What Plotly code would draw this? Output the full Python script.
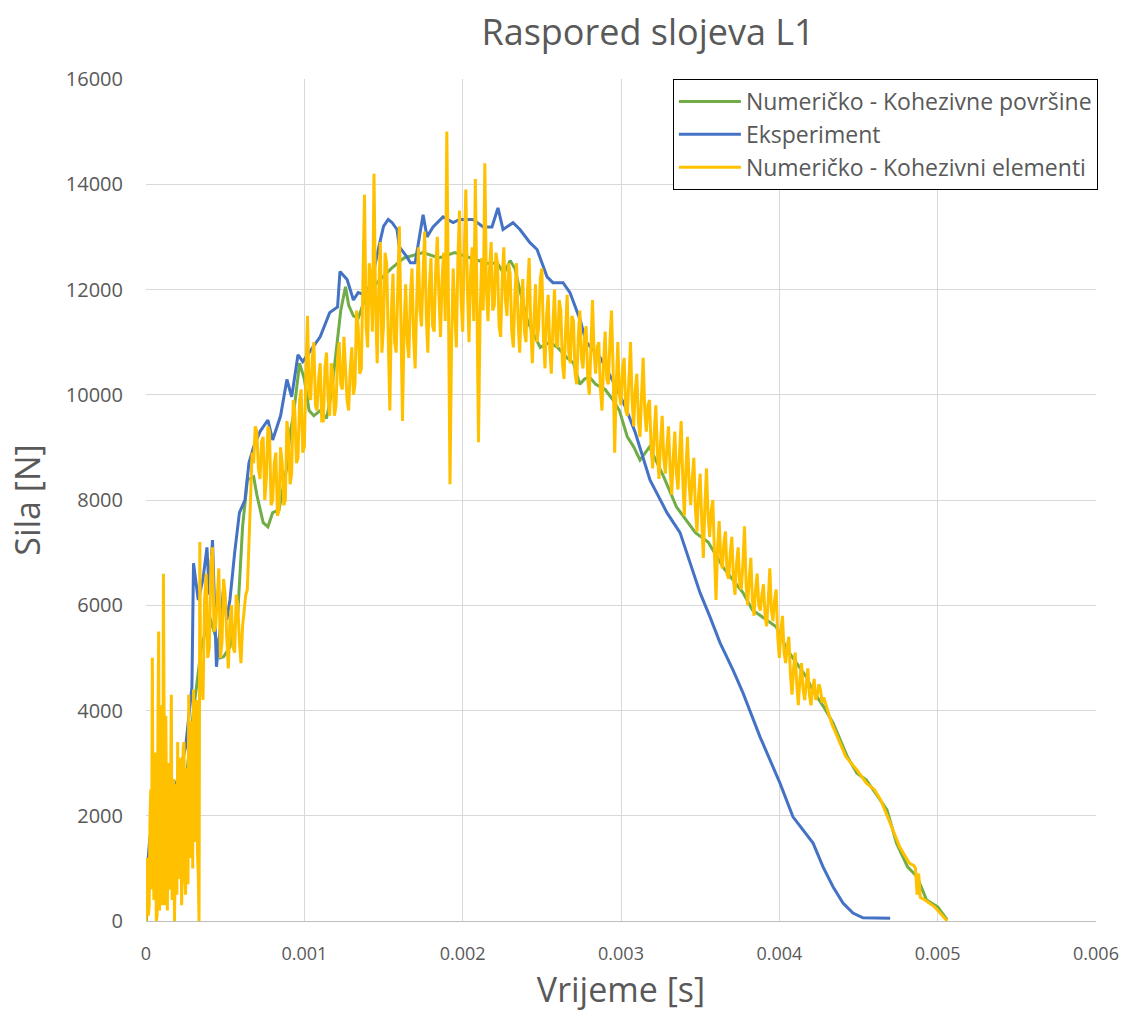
import plotly.graph_objects as go

# Eksperiment: time [ms], force [N]
exp_t_ms = [0, 0.006, 0.025, 0.06, 0.10, 0.15, 0.20, 0.25, 0.29, 0.30, 0.33, 0.36, 0.385, 0.40,
            0.42, 0.445, 0.47, 0.49, 0.51, 0.53, 0.56, 0.59, 0.625, 0.65, 0.68, 0.72, 0.77, 0.80,
            0.85, 0.89, 0.92, 0.96, 0.99, 1.04, 1.10, 1.16, 1.21, 1.225, 1.27, 1.31, 1.34, 1.38,
            1.42, 1.47, 1.50, 1.53, 1.555, 1.585, 1.60, 1.648, 1.67, 1.70, 1.75, 1.775, 1.813,
            1.876, 1.94, 1.98, 2.065, 2.13, 2.185, 2.223, 2.255, 2.318, 2.362, 2.425, 2.47, 2.533,
            2.57, 2.634, 2.678, 2.741, 2.78, 2.87, 2.96, 3.03, 3.088, 3.183, 3.29, 3.373, 3.436,
            3.499, 3.562, 3.625, 3.707, 3.771, 3.878, 4.004, 4.086, 4.149, 4.213, 4.276, 4.339,
            4.402, 4.465, 4.528, 4.70]
exp_f = [0, 900, 1600, 1800, 2000, 2300, 2700, 3300, 4450, 6800, 6100, 6500, 7100, 6200,
         7240, 4830, 5600, 6350, 5720, 6100, 7000, 7760, 8000, 8700, 9010, 9300, 9520, 9140,
         9600, 10290, 9960, 10760, 10630, 10850, 11100, 11560, 11670, 12340, 12190, 11800, 11940, 11900,
         12100, 12800, 13200, 13330, 13270, 13140, 12810, 12620, 12510, 12510, 13420, 13000, 13190,
         13380, 13270, 13330, 13330, 13190, 13190, 13550, 13140, 13270, 13140, 12890, 12760, 12240,
         12130, 12130, 11940, 11430, 11000, 10700, 10200, 9750, 9300, 8380, 7760, 7380, 6810,
         6240, 5780, 5290, 4770, 4330, 3500, 2620, 1980, 1730, 1480, 1030, 650,
         340, 150, 60, 50]

# Numeričko - Kohezivne površine: time [ms], force [N]
cs_t_ms = [0, 0.01, 0.03, 0.06, 0.10, 0.15, 0.20, 0.25, 0.30, 0.35, 0.40, 0.45, 0.47, 0.49,
           0.53, 0.58, 0.61, 0.64, 0.68, 0.70, 0.74, 0.77, 0.80, 0.84, 0.89, 0.91, 0.93, 0.97,
           1.00, 1.03, 1.06, 1.10, 1.14, 1.17, 1.20, 1.23, 1.26, 1.28, 1.31, 1.34, 1.38, 1.45,
           1.55, 1.63, 1.75, 1.85, 1.95, 2.05, 2.15, 2.22, 2.26, 2.30, 2.33, 2.36, 2.41, 2.44,
           2.49, 2.55, 2.60, 2.66, 2.70, 2.74, 2.77, 2.80, 2.84, 2.90, 2.95, 2.99, 3.04, 3.08,
           3.12, 3.18, 3.27, 3.35, 3.47, 3.55, 3.65, 3.77, 3.83, 3.98, 4.05, 4.17, 4.21, 4.28,
           4.34, 4.43, 4.49, 4.55, 4.64, 4.68, 4.74, 4.81, 4.87, 4.93, 5.00, 5.06]
cs_f = [0, 300, 1200, 2300, 2000, 1900, 2100, 2600, 4000, 5200, 5800, 5300, 5000, 5020,
        5210, 5860, 7490, 8380, 8440, 8100, 7570, 7490, 7760, 7810, 8630, 9280, 9580, 10600,
        10300, 9700, 9600, 9700, 9550, 10000, 10800, 11600, 12050, 11700, 11500, 11450, 11800, 12100,
        12400, 12600, 12700, 12600, 12700, 12600, 12500, 12500, 12300, 12550, 12400, 12000, 11400, 11200,
        10900, 11000, 10900, 10700, 10600, 10200, 10300, 10340, 10200, 10100, 9900, 9700, 9200, 9010,
        8760, 9010, 8440, 7870, 7380, 7200, 6700, 6240, 5910, 5590, 5150, 4640, 4390, 4070,
        3760, 3120, 2810, 2680, 2300, 2110, 1480, 1030, 840, 400, 270, 20]

# Numeričko - Kohezivni elementi: time [ms], force [N]
ce_t_ms = [
    0.000, 0.005, 0.010, 0.015, 0.020, 0.025, 0.030, 0.035, 0.040, 0.045,
    0.050, 0.055, 0.060, 0.065, 0.070, 0.075, 0.080, 0.085, 0.090, 0.095,
    0.100, 0.105, 0.110, 0.115, 0.120, 0.125, 0.130, 0.135, 0.140, 0.145,
    0.150, 0.155, 0.160, 0.165, 0.170, 0.175, 0.180, 0.185, 0.190, 0.195,
    0.200, 0.205, 0.210, 0.215, 0.220, 0.225, 0.230, 0.235, 0.240, 0.245,
    0.250, 0.255, 0.260, 0.265, 0.270, 0.275, 0.280, 0.285, 0.290, 0.295,
    0.300, 0.305, 0.310, 0.315, 0.320, 0.325, 0.330, 0.335, 0.340, 0.345,
    0.350,
    0.36, 0.37, 0.38, 0.39, 0.40, 0.41, 0.42, 0.43, 0.44, 0.45,
    0.46, 0.47, 0.48, 0.49, 0.50, 0.51, 0.52, 0.53, 0.54, 0.55,
    0.56, 0.57, 0.58, 0.59, 0.60, 0.61, 0.62, 0.63, 0.64, 0.65,
    0.66, 0.67, 0.68, 0.69, 0.70, 0.71, 0.72, 0.73, 0.74, 0.75,
    0.76, 0.77, 0.78, 0.79, 0.80, 0.81, 0.82, 0.83, 0.84, 0.85,
    0.86, 0.87, 0.88, 0.89, 0.90, 0.91, 0.92, 0.93, 0.94, 0.95,
    0.96, 0.97, 0.98, 0.99, 1.00, 1.01, 1.02, 1.03, 1.04, 1.05,
    1.06, 1.07, 1.08, 1.09, 1.10, 1.11, 1.12, 1.13, 1.14, 1.15,
    1.16, 1.17, 1.18, 1.19, 1.20, 1.21, 1.22, 1.23, 1.24, 1.25,
    1.26, 1.27, 1.28, 1.29, 1.30, 1.31, 1.32, 1.33, 1.34, 1.35,
    1.36, 1.37, 1.38, 1.39, 1.40, 1.41, 1.42, 1.43, 1.44, 1.45,
    1.46, 1.47, 1.48, 1.49, 1.50, 1.51, 1.52, 1.53, 1.54, 1.55,
    1.56, 1.57, 1.58, 1.59, 1.60, 1.61, 1.62, 1.63, 1.64, 1.65,
    1.66, 1.67, 1.68, 1.69, 1.70, 1.71, 1.72, 1.73, 1.74, 1.75,
    1.76, 1.77, 1.78, 1.79, 1.80, 1.81, 1.82, 1.83, 1.84, 1.85,
    1.86, 1.87, 1.88, 1.89, 1.90, 1.91, 1.92, 1.93, 1.94, 1.95,
    1.96, 1.97, 1.98, 1.99, 2.00, 2.01, 2.02, 2.03, 2.04, 2.05,
    2.06, 2.07, 2.08, 2.09, 2.10, 2.11, 2.12, 2.13, 2.14, 2.15,
    2.16, 2.17, 2.18, 2.19, 2.20, 2.21, 2.22, 2.23, 2.24, 2.25,
    2.26, 2.27, 2.28, 2.29, 2.30, 2.31, 2.32, 2.33, 2.34, 2.35,
    2.36, 2.37, 2.38, 2.39, 2.40, 2.41, 2.42, 2.43, 2.44, 2.45,
    2.46, 2.47, 2.48, 2.49, 2.50, 2.51, 2.52, 2.53, 2.54, 2.55,
    2.56, 2.57, 2.58, 2.59, 2.60, 2.61, 2.62, 2.63, 2.64, 2.65,
    2.66, 2.67, 2.68, 2.69, 2.70, 2.71, 2.72, 2.73, 2.74, 2.75,
    2.76, 2.77, 2.78, 2.79, 2.80, 2.81, 2.82, 2.83, 2.84, 2.85,
    2.86, 2.87, 2.88, 2.89, 2.90, 2.91, 2.92, 2.93, 2.94, 2.95,
    2.96, 2.97, 2.98, 2.99, 3.00, 3.01, 3.02, 3.03, 3.04, 3.05,
    3.06, 3.07, 3.08, 3.09, 3.10, 3.11, 3.12, 3.13, 3.14, 3.15,
    3.16, 3.17, 3.18, 3.19, 3.20, 3.21, 3.22, 3.23, 3.24, 3.25,
    3.26, 3.27, 3.28, 3.29, 3.30, 3.31, 3.32, 3.33, 3.34, 3.35,
    3.36, 3.37, 3.38, 3.39, 3.40, 3.41, 3.42, 3.43, 3.44, 3.45,
    3.46, 3.47, 3.48, 3.49, 3.50, 3.51, 3.52, 3.53, 3.54, 3.55,
    3.56, 3.57, 3.58, 3.59, 3.60, 3.61, 3.62, 3.63, 3.64, 3.65,
    3.66, 3.67, 3.68, 3.69, 3.70, 3.71, 3.72, 3.73, 3.74, 3.75,
    3.76, 3.77, 3.78, 3.79, 3.80, 3.81, 3.82, 3.83, 3.84, 3.85,
    3.86, 3.87, 3.88, 3.89, 3.90, 3.91, 3.92, 3.93, 3.94, 3.95,
    3.96, 3.97, 3.98, 3.99, 4.00, 4.01, 4.02, 4.03, 4.04, 4.05,
    4.06, 4.07, 4.08, 4.09, 4.10, 4.11, 4.12, 4.13, 4.14, 4.15,
    4.16, 4.17, 4.18, 4.19, 4.20, 4.21, 4.22, 4.23, 4.24, 4.25,
    4.26, 4.27, 4.28,
    4.33, 4.38, 4.42, 4.49, 4.55, 4.60, 4.64, 4.70, 4.76, 4.82,
    4.85, 4.86, 4.87, 4.88, 4.89, 4.92, 4.98, 5.06]
ce_f = [
    0, 800, 1200, 100, 300, 1900, 2500, 600, 5000, 1500,
    400, 3200, 2200, 0, 100, 3600, 5500, 200, 900, 4100,
    2800, 300, 6600, 1100, 300, 3900, 1800, 200, 3000, 700,
    600, 3500, 4300, 400, 1500, 2700, 0, 1900, 2600, 500,
    3400, 1300, 800, 3100, 2400, 300, 1200, 3300, 3400, 900,
    500, 2600, 2900, 700, 4300, 1800, 1200, 3500, 3800, 1000,
    4400, 2400, 1500, 3900, 4200, 1300, 900, 0, 7200, 4400,
    4600,
    4200, 6100, 6600, 5000, 5200, 6800, 7100, 5500, 5600, 6300,
    6700, 5000, 5300, 6500, 6200, 5400, 4800, 5700, 6000, 5200,
    5100, 6200, 6000, 5300, 4900, 5600, 5900, 6200, 6300, 7400,
    8000, 8900, 8700, 9400, 9300, 8600, 8400, 9100, 9200, 8000,
    8400, 9400, 9300, 7900, 8000, 8700, 8900, 7700, 7800, 9000,
    8700, 7900, 8000, 9500, 9200, 8300, 8500, 9900, 9700, 8700,
    8800, 9900, 10100, 8900, 9000, 10400, 11500, 10000, 9900, 10700,
    11000, 9800, 9700, 10300, 10600, 9500, 9500, 10500, 10800, 9900,
    9600, 10600, 10400, 9600, 9800, 10700, 11000, 10200, 10100, 11100,
    10600, 9900, 9700, 10500, 10900, 10000, 10200, 11600, 11300, 10400,
    10500, 11900, 13800, 11300, 10900, 12500, 12200, 11200, 14200, 11700,
    10600, 12000, 12900, 10800, 11300, 12700, 12500, 11100, 9700, 11600,
    12300, 11000, 10800, 12000, 13200, 11400, 9500, 11300, 12100, 11000,
    10700, 11900, 12400, 11100, 10500, 11800, 12800, 11600, 11300, 12300,
    13100, 11500, 10800, 12100, 12600, 11300, 11200, 12400, 13000, 11900,
    11100, 12200, 12700, 11400, 15000, 11800, 8300, 11000, 12400, 11600,
    10900, 12600, 13500, 11800, 11200, 12700, 13900, 12000, 11000, 12300,
    12800, 11400, 14100, 11800, 9100, 11500, 12600, 11600, 14400, 12000,
    11400, 12400, 12900, 11600, 11700, 12700, 12500, 11300, 11100, 12200,
    12800, 11800, 11500, 12500, 12300, 11200, 10900, 11900, 12500, 11400,
    10800, 11700, 12200, 11200, 11000, 12000, 12600, 11300, 10600, 11400,
    12100, 11000, 11300, 12200, 12400, 11100, 10500, 11500, 11900, 10900,
    10400, 11300, 12000, 11000, 10900, 11800, 11600, 10600, 10300, 11200,
    11900, 10800, 10600, 11500, 11400, 10400, 10200, 11100, 11600, 10700,
    10500, 11100, 11300, 10300, 10000, 10900, 11800, 10800, 10400, 10900,
    11000, 10100, 9700, 10600, 11200, 10300, 10200, 11000, 11600, 10500,
    8900, 10200, 11000, 10000, 9800, 10500, 10700, 9700, 9600, 10300,
    11000, 9900, 9400, 10100, 10400, 9500, 9200, 10000, 10700, 9700,
    9300, 9800, 9900, 9000, 8600, 9300, 9800, 8900, 8400, 9100,
    9600, 8800, 8500, 9000, 9400, 8600, 8100, 8800, 9300, 8500,
    8200, 8900, 9500, 8400, 7700, 8600, 9200, 8300, 7900, 8400,
    8800, 7800, 7400, 8100, 8500, 7600, 6900, 7900, 8600, 7700,
    7300, 7800, 8000, 7000, 6100, 7100, 7600, 6900, 6700, 7200,
    7400, 6600, 6500, 7000, 7300, 6500, 6200, 6800, 7100, 6400,
    6300, 6800, 7500, 6400, 6000, 6500, 6900, 6100, 5800, 6300,
    6600, 6000, 5900, 6200, 6400, 5800, 5600, 6100, 6700, 5900,
    5700, 6100, 6300, 5400, 5000, 5500, 5800, 5100, 4900, 5200,
    5400, 4700, 4300, 4800, 5100, 4500, 4100, 4600, 4900, 4400,
    4200, 4500, 4800, 4300, 4100, 4400, 4600, 4200, 4300, 4500,
    4400, 4150, 4250,
    3760, 3400, 3120, 2870, 2620, 2500, 2300, 1860, 1410, 1100,
    1050, 1000, 500, 900, 450, 400, 270, 0]

x_ticks = [0, 0.001, 0.002, 0.003, 0.004, 0.005, 0.006]
x_tick_text = ["0", "0.001", "0.002", "0.003", "0.004", "0.005", "0.006"]
y_ticks = [0, 2000, 4000, 6000, 8000, 10000, 12000, 14000, 16000]
y_tick_text = ["0", "2000", "4000", "6000", "8000", "10000", "12000", "14000", "16000"]


def ms_to_s(values):
    return [v / 1000 for v in values]


series = [
    ("Numeričko - Kohezivne površine", cs_t_ms, cs_f, "#70AD47"),
    ("Eksperiment", exp_t_ms, exp_f, "#4472C4"),
    ("Numeričko - Kohezivni elementi", ce_t_ms, ce_f, "#FFC000"),
]

FONT = "Open Sans"
GREY = "#595959"

fig = go.Figure()
for i, (name, t_ms, f, color) in enumerate(series):
    fig.add_trace(go.Scatter(
        x=ms_to_s(t_ms), y=f, mode="lines", name=name,
        legendgroup=f"g{i}",
        line=dict(color=color, width=3),
    ))

fig.update_layout(
    width=1131, height=1017,
    margin=dict(l=146, r=35, t=79, b=96),
    paper_bgcolor="white", plot_bgcolor="white",
    font=dict(family=FONT, color=GREY),
    title=dict(text="Raspored slojeva L1", font=dict(family=FONT, size=36, color=GREY),
               x=0.573, xref="container", xanchor="center",
               y=1 - 32 / 1017, yref="container", yanchor="middle"),
    legend=dict(x=1.002, y=1.0, xanchor="right", yanchor="top",
                bordercolor="black", borderwidth=1, bgcolor="white",
                font=dict(family=FONT, size=23, color=GREY),
                tracegroupgap=0, itemwidth=62),
    showlegend=True,
)
fig.update_xaxes(
    range=[0, 0.006], tickvals=x_ticks, ticktext=x_tick_text,
    showgrid=True, gridcolor="#D9D9D9", gridwidth=1,
    showline=True, linecolor="#BFBFBF", linewidth=1,
    zeroline=False, ticks="outside", ticklen=16, tickcolor="rgba(0,0,0,0)",
    tickfont=dict(family=FONT, size=18, color=GREY),
    title=dict(text="Vrijeme [s]", font=dict(family=FONT, size=34, color=GREY), standoff=14),
    automargin=False,
)
fig.update_yaxes(
    range=[0, 16000], tickvals=y_ticks, ticktext=y_tick_text,
    showgrid=True, gridcolor="#D9D9D9", gridwidth=1,
    showline=False, zeroline=False,
    ticks="outside", ticklen=18, tickcolor="rgba(0,0,0,0)",
    tickfont=dict(family=FONT, size=20, color=GREY),
    title=dict(text="Sila [N]", font=dict(family=FONT, size=34, color=GREY), standoff=14),
    automargin=False,
)

fig.write_html("out.html")
